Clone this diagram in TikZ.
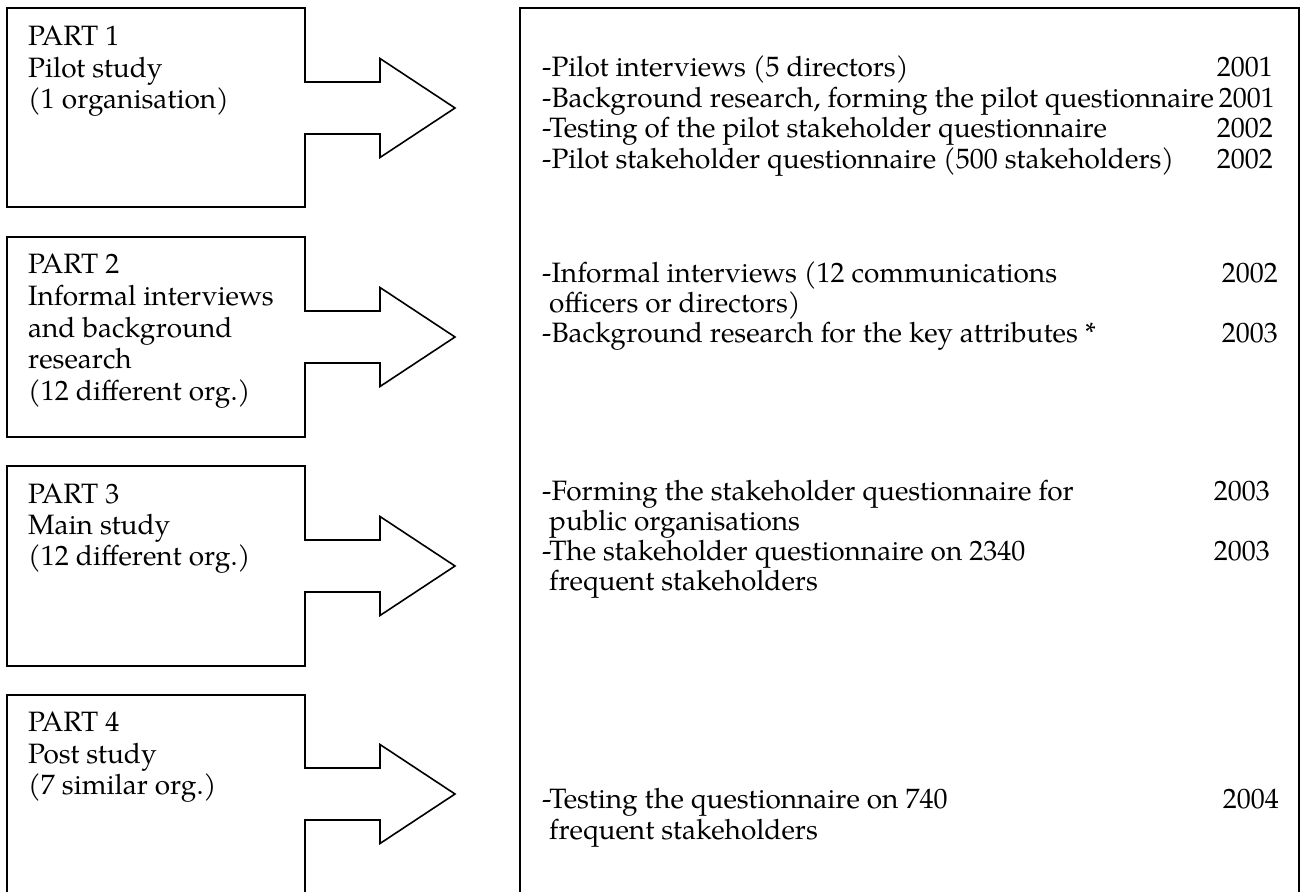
\documentclass[tikz,border=0pt]{standalone}
\usepackage{fontspec}
\setmainfont{TeX Gyre Pagella}

% outline of a part box whose right edge opens into a block arrow
% #1 top, #2 bottom, #3 arrow axis
\newcommand\partoutline[3]{%
  \draw[outline] (7,#1) -- (305,#1) -- (305,#3-26) -- (380,#3-26) -- (380,#3-49.5)
    -- (455,#3) -- (380,#3+49.5) -- (380,#3+26) -- (305,#3+26) -- (305,#2)
    -- (7,#2) -- cycle;}

\begin{document}
\begin{tikzpicture}[x=1pt,y=-1pt,
  outline/.style={draw=black, line width=1.6pt, line join=miter},
  parttext/.style={anchor=base west, inner sep=0pt, font=\fontsize{28}{31.5}\selectfont},
  itemtext/.style={anchor=base west, inner sep=0pt, font=\fontsize{28}{31}\selectfont},
  yeartext/.style={anchor=base east, inner sep=0pt, font=\fontsize{28}{31}\selectfont}]
\useasboundingbox (0,0) rectangle (1302,892);
\clip (0,0) rectangle (1302,892);

% part outlines with arrows
\partoutline{8}{207}{108}
\partoutline{237}{437}{337}
\partoutline{466}{666}{566}
\partoutline{695}{900}{794}

% common timeline frame on the right
\draw[outline] (520,8) rectangle (1299,910);

% part titles
\node[parttext] (p1a) at (28,45) {PART 1};
\node[parttext] (p1b) at (28,77) {Pilot study};
\node[parttext] (p1c) at (28,108) {(1 organisation)};

\node[parttext] (p2a) at (28,273) {PART 2};
\node[parttext] (p2b) at (28,305) {Informal interviews};
\node[parttext] (p2c) at (28,337) {and background};
\node[parttext] (p2d) at (28,368) {research};
\node[parttext] (p2e) at (28,400) {(12 different org.)};

\node[parttext] (p3a) at (28,503) {PART 3};
\node[parttext] (p3b) at (28,534) {Main study};
\node[parttext] (p3c) at (28,565) {(12 different org.)};

\node[parttext] (p4a) at (28,731) {PART 4};
\node[parttext] (p4b) at (28,763) {Post study};
\node[parttext] (p4c) at (28,794) {(7 similar org.)};

% activities and years
\node[itemtext] (a1) at (542,76) {-Pilot interviews (5 directors)};
\node[yeartext] (y1) at (1273,76) {2001};
\node[itemtext] (a2) at (542,107) {-Background research, forming the pilot questionnaire};
\node[yeartext] (y2) at (1275,107) {2001};
\node[itemtext] (a3) at (542,137) {-Testing of the pilot stakeholder questionnaire};
\node[yeartext] (y3) at (1273,137) {2002};
\node[itemtext] (a4) at (542,168) {-Pilot stakeholder questionnaire (500 stakeholders)};
\node[yeartext] (y4) at (1273,168) {2002};

\node[itemtext] (b1) at (542,282) {-Informal interviews (12 communications};
\node[yeartext] (z1) at (1278,282) {2002};
\node[itemtext] (b2) at (549,312) {officers or directors)};
\node[itemtext] (b3) at (542,342) {-Background research for the key attributes *};
\node[yeartext] (z3) at (1278,342) {2003};

\node[itemtext] (c1) at (542,500) {-Forming the stakeholder questionnaire for};
\node[yeartext] (w1) at (1270,500) {2003};
\node[itemtext] (c2) at (549,530) {public organisations};
\node[itemtext] (c3) at (542,560) {-The stakeholder questionnaire on 2340};
\node[yeartext] (w3) at (1270,560) {2003};
\node[itemtext] (c4) at (549,590) {frequent stakeholders};

\node[itemtext] (d1) at (542,808) {-Testing the questionnaire on 740};
\node[yeartext] (v1) at (1279,808) {2004};
\node[itemtext] (d2) at (549,839) {frequent stakeholders};
\end{tikzpicture}
\end{document}
